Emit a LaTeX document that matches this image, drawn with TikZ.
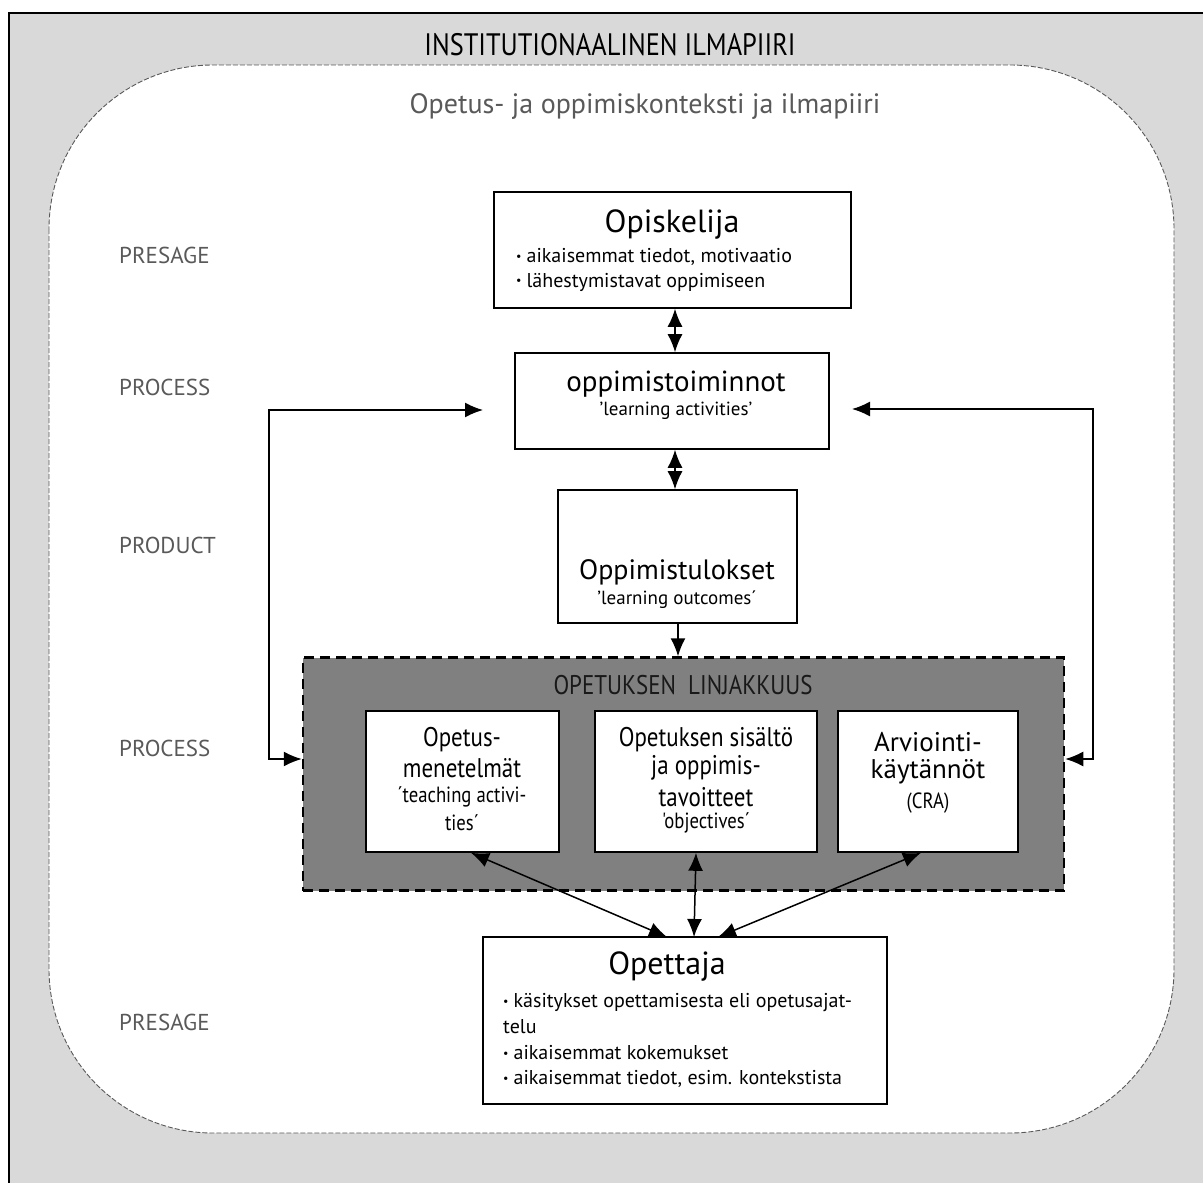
\documentclass[tikz,border=0pt]{standalone}
\usepackage{fontspec}
\setmainfont{PT Sans}
\newfontfamily\cnd[FakeStretch=0.85]{PT Sans}
\usetikzlibrary{arrows.meta}
\definecolor{outerbg}{HTML}{D9D9D9}
\definecolor{darkfill}{HTML}{808080}
\definecolor{lblgray}{HTML}{595959}
\newcommand\fsz[1]{\fontsize{#1pt}{#1pt}\selectfont}
\newcommand\bul{{\fsz{12}\raisebox{0.35ex}{•}}\hspace{5pt}}
\begin{document}
\begin{tikzpicture}[x=1pt,y=-1pt,
  box/.style={draw=black,line width=1.6pt,fill=white,inner sep=0pt},
  txt/.style={inner sep=0pt,text=black},
  stage/.style={inner sep=0pt,anchor=west,text=lblgray,font=\fsz{23}},
  dbl/.style={line width=1.5pt,{Latex[length=18pt,width=15pt]}-{Latex[length=18pt,width=15pt]}},
  sgl/.style={line width=1.5pt,-{Latex[length=18pt,width=15pt]}}]
\useasboundingbox (0,0) rectangle (1203,1183);
% outer area
\fill[outerbg] (9,13) rectangle (1230,1210);
\draw[line width=2pt] (1230,13) -- (9,13) -- (9,1210);
\node[txt,font=\cnd\fsz{31}] (title) at (610,45) {INSTITUTIONAALINEN ILMAPIIRI};
% inner context
\draw[draw=black!65,line width=0.9pt,dash pattern=on 5pt off 2pt,fill=white,rounded corners=164pt] (49,65) rectangle (1174,1133);
\node[txt,font=\fsz{28},text=lblgray] (ctx) at (645,106) {Opetus- ja oppimiskonteksti ja ilmapiiri};
% stage labels
\node[stage] (s1) at (119,255) {PRESAGE};
\node[stage] (s2) at (119,387) {PROCESS};
\node[stage] (s3) at (119,545) {PRODUCT};
\node[stage] (s4) at (119,748) {PROCESS};
\node[stage] (s5) at (119,1022) {PRESAGE};
% Opiskelija
\node[box,minimum width=357pt,minimum height=116pt] (opis) at (672.5,250) {};
\node[txt,font=\fsz{32}] (opist) at (672,224) {Opiskelija};
\node[txt,anchor=west,font=\fsz{20}] (opisb1) at (516,257) {\bul aikaisemmat tiedot, motivaatio};
\node[txt,anchor=west,font=\fsz{20}] (opisb2) at (516,282) {\bul lähestymistavat oppimiseen};
% oppimistoiminnot
\node[box,minimum width=314pt,minimum height=96pt] (oppt) at (672,401) {};
\node[txt,font=\fsz{29}] (oppti) at (676,384) {oppimistoiminnot};
\node[txt,font=\fsz{19}] (opptl) at (676,411) {'learning activities'};
% Oppimistulokset
\node[box,minimum width=239pt,minimum height=133pt] (tul) at (677.5,556.5) {};
\node[txt,font=\fsz{28}] (tulti) at (677,572) {Oppimistulokset};
\node[txt,font=\fsz{19}] (tulsub) at (677,600) {'learning outcomes´};
% alignment box
\node[draw=black,line width=2.5pt,dash pattern=on 10pt off 6pt,fill=darkfill,minimum width=761pt,minimum height=233pt,inner sep=0pt] (lin) at (683.5,774) {};
\node[txt,font=\cnd\fsz{27},text=black!90] (linl) at (683,685) {OPETUKSEN\ \ LINJAKKUUS};
\node[box,minimum width=193pt,minimum height=141pt] (met) at (462.5,781.5) {};
\node[box,minimum width=222pt,minimum height=141pt] (sis) at (706,781.5) {};
\node[box,minimum width=180pt,minimum height=141pt] (arv) at (928,781.5) {};
\node[txt,font=\cnd\fsz{27}] (met1) at (462,740) {Opetus-};
\node[txt,font=\cnd\fsz{27}] (met2) at (462,768) {menetelmät};
\node[txt,font=\cnd\fsz{22}] (met3) at (462,797) {´teaching activi-};
\node[txt,font=\cnd\fsz{22}] (met4) at (462,823) {ties´};
\node[txt,font=\cnd\fsz{27}] (sis1) at (706,740) {Opetuksen sisältö};
\node[txt,font=\cnd\fsz{27}] (sis2) at (706,768) {ja oppimis-};
\node[txt,font=\cnd\fsz{27}] (sis3) at (706,797) {tavoitteet};
\node[txt,font=\cnd\fsz{22}] (sis4) at (706,823) {'objectives´};
\node[txt,font=\fsz{27}] (arv1) at (928,742) {Arviointi-};
\node[txt,font=\fsz{27}] (arv2) at (928,772) {käytännöt};
\node[txt,font=\cnd\fsz{22}] (arv3) at (928,803) {(CRA)};
% Opettaja
\node[box,minimum width=404pt,minimum height=167pt] (ope) at (685,1020.5) {};
\node[txt,font=\fsz{32}] (opet) at (667,966) {Opettaja};
\node[txt,anchor=west,font=\fsz{20}] (opeb1) at (503,1003) {\bul käsitykset opettamisesta eli opetusajat-};
\node[txt,anchor=west,font=\fsz{20}] (opeb1b) at (503,1027) {telu};
\node[txt,anchor=west,font=\fsz{20}] (opeb2) at (503,1053) {\bul aikaisemmat kokemukset};
\node[txt,anchor=west,font=\fsz{20}] (opeb3) at (503,1079) {\bul aikaisemmat tiedot, esim. kontekstista};
% connectors
\draw[dbl] (opis.south -| 675,0) -- (oppt.north -| 675,0);
\draw[dbl] (oppt.south -| 675,0) -- (tul.north -| 675,0);
\draw[sgl] (tul.south -| 678,0) -- (lin.north -| 678,0);
\coordinate (lc1) at (269,410);
\coordinate (lc2) at (269,759);
\coordinate (rc1) at (1093,409);
\coordinate (rc2) at (1093,759);
\draw[dbl] (483,410) -- (lc1) -- (lc2) -- (lin.west |- lc2);
\draw[dbl] (852,409) -- (rc1) -- (rc2) -- (lin.east |- rc2);
\coordinate (oa) at (667,937);
\coordinate (ob) at (694,937);
\coordinate (oc) at (718,937);
\draw[dbl] (met.south -| 471,0) -- (oa);
\draw[dbl] (sis.south -| 696,0) -- (ob);
\draw[dbl] (arv.south -| 921,0) -- (oc);
\end{tikzpicture}
\end{document}
